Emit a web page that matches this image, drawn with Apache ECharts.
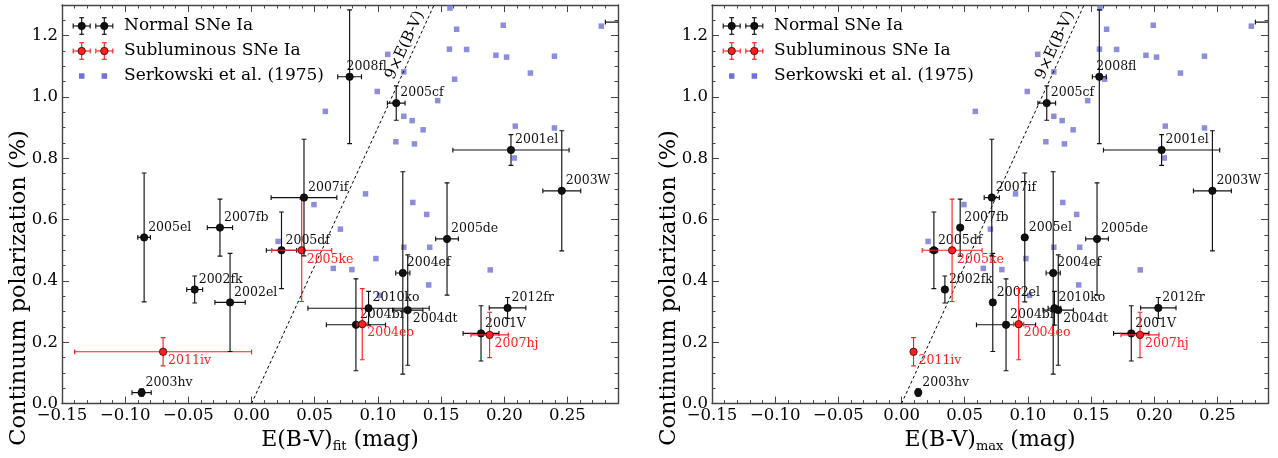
<!DOCTYPE html>
<html>
<head>
<meta charset="utf-8">
<script src="https://cdn.jsdelivr.net/npm/echarts@6/dist/echarts.min.js"></script>
<style>
html,body{margin:0;padding:0;background:#fff;}
#chart{width:1278px;height:458px;}
</style>
</head>
<body>
<div id="chart"></div>
<script>
// SN Ia data
var snNames   = ['2003hv','2011iv','2002el','2002fk','2005el','2007fb','2005df','2005ke','2007if','2008fl','2005cf','2001el','2003W','2005de','2004ef','2010ko','2004dt','2004br','2004eo','2001V','2007hj','2012fr',''];
var snGroup   = ['N','S','N','N','N','N','N','S','N','N','N','N','N','N','N','N','N','N','S','N','S','N','N'];
var snPol     = [0.036,0.169,0.330,0.372,0.542,0.574,0.500,0.500,0.672,1.066,0.980,0.827,0.694,0.537,0.426,0.311,0.305,0.257,0.259,0.229,0.224,0.312,1.244];
var snPolErr  = [0.012,0.046,0.160,0.044,0.210,0.093,0.125,0.167,0.190,0.218,0.056,0.050,0.196,0.183,0.330,0.055,0.180,0.150,0.116,0.090,0.074,0.034,0.000];
var ebvFit    = [-0.087,-0.070,-0.017,-0.045,-0.085,-0.025,0.0237,0.0397,0.0415,0.0776,0.1145,0.2053,0.2455,0.1547,0.1197,0.0926,0.1236,0.0826,0.0876,0.1816,0.1884,0.2026,0.300];
var ebvFitErr = [0.0076,0.070,0.012,0.0063,0.005,0.010,0.012,0.0237,0.026,0.0094,0.007,0.046,0.015,0.009,0.0056,0.048,0.012,0.0234,0.004,0.0142,0.0148,0.0145,0.020];
var ebvMax    = [0.0132,0.0095,0.0722,0.0343,0.0975,0.0464,0.0256,0.040,0.0714,0.1565,0.1149,0.2058,0.246,0.1547,0.120,0.121,0.124,0.0827,0.0927,0.1818,0.1887,0.2032,0.300];
var ebvMaxErr = [0.002,0.001,0.001,0.002,0.002,0.002,0.003,0.0237,0.006,0.0055,0.007,0.046,0.015,0.009,0.0056,0.005,0.012,0.0234,0.004,0.014,0.015,0.014,0.020];

// Serkowski et al. (1975) galactic stars
var serkEbv = [0.0584,0.0494,0.1623,0.1992,0.2768,0.1566,0.1702,0.1934,0.2018,0.2397,0.1078,0.1205,0.2207,0.1607,0.0995,0.1473,0.1205,0.1271,0.1358,0.1142,0.1289,0.2087,0.2397,0.2079,0.0902,0.1276,0.1386,0.0703,0.1205,0.1410,0.0984,0.0647,0.0794,0.1889,0.1402,0.1013,0.0210,0.1570];
var serkPol = [0.953,0.649,1.221,1.234,1.231,1.156,1.155,1.136,1.130,1.133,1.139,1.082,1.078,1.058,1.018,0.988,0.937,0.923,0.893,0.854,0.847,0.905,0.899,0.801,0.684,0.656,0.617,0.569,0.510,0.510,0.473,0.441,0.437,0.436,0.387,0.353,0.529,1.290];

var ratioSlope = 9;   // P = 9 x E(B-V)
var xMin = -0.15, xMax = 0.29, xMajor = 0.05, xMinor = 0.01;
var yMin = 0, yMax = 1.3, yMajor = 0.2, yMinor = 0.05;

// label placement (pixel offsets from the point)
var labelBelow = ['2005ke','2011iv','2004eo','2007hj','2004dt'];
var labelLeft  = ['2008fl'];

var serif = 'DejaVu Serif';
var axisColor = '#444';
var colNormal = '#111';
var colSub = '#ff1f1f';
var colSerk = '#7070d6';

function fmtX(v){
    if (v > xMax - 0.02) return '';
    if (Math.abs(v) < 1e-9) return '0.00';
    return (v < 0 ? '\u2212' : '') + Math.abs(v).toFixed(2);
}
function fmtY(v){
    if (v > yMax - 0.05) return '';
    return v.toFixed(1);
}

function mkX(grid, pos, major, labels, sub){
    var ax = {
        type:'value', gridIndex:grid, position:pos, min:xMin, max:xMax,
        interval: major ? xMajor : xMinor,
        axisLine:{show:major, onZero:false, lineStyle:{color:axisColor, width:1.4}},
        axisTick:{show:true, inside:true, length: major ? 7 : 3.5, lineStyle:{color:axisColor, width:1}},
        axisLabel:{show:labels, margin:4, color:'#000', fontFamily:serif, fontSize:16.5, formatter:fmtX},
        splitLine:{show:false}
    };
    if (sub){
        ax.name = '{a|E(B-V)}{s|' + sub + '}{a| (mag)}';
        ax.nameLocation = 'middle';
        ax.nameGap = 20;
        ax.nameTextStyle = {
            color:'#000', fontFamily:serif, fontSize:22,
            rich:{
                a:{color:'#000', fontFamily:serif, fontSize:22, lineHeight:25},
                s:{color:'#000', fontFamily:serif, fontSize:13, lineHeight:25, verticalAlign:'bottom'}
            }
        };
    }
    return ax;
}
function mkY(grid, pos, major, labels){
    return {
        type:'value', gridIndex:grid, position:pos, min:yMin, max:yMax,
        interval: major ? yMajor : yMinor,
        axisLine:{show:major, onZero:false, lineStyle:{color:axisColor, width:1.4}},
        axisTick:{show:true, inside:true, length: major ? 7 : 3.5, lineStyle:{color:axisColor, width:1}},
        axisLabel:{show:labels, margin:4, color:'#000', fontFamily:serif, fontSize:16.5, formatter:fmtY},
        splitLine:{show:false}
    };
}

function snData(xs, xe){
    var out = [];
    for (var i = 0; i < snNames.length; i++){
        out.push([xs[i], snPol[i], xe[i], snPolErr[i], i]);
    }
    return out;
}
function serkData(){
    var out = [];
    for (var i = 0; i < serkEbv.length; i++) out.push([serkEbv[i], serkPol[i]]);
    return out;
}

// error bars + dot + name
function renderSN(params, api){
    var i = api.value(4);
    var x = api.value(0), y = api.value(1), dx = api.value(2), dy = api.value(3);
    var col = snGroup[i] == 'S' ? colSub : colNormal;
    var c = api.coord([x, y]);
    var l = api.coord([x - dx, y])[0], r = api.coord([x + dx, y])[0];
    var t = api.coord([x, y + dy])[1], b = api.coord([x, y - dy])[1];
    var cap = 2.4;
    var st = {stroke:col, lineWidth:1.15};
    var kids = [];
    if (r - l > 1){
        kids.push({type:'line', shape:{x1:l, y1:c[1], x2:r, y2:c[1]}, style:st});
        kids.push({type:'line', shape:{x1:l, y1:c[1]-cap, x2:l, y2:c[1]+cap}, style:st});
        kids.push({type:'line', shape:{x1:r, y1:c[1]-cap, x2:r, y2:c[1]+cap}, style:st});
    }
    if (b - t > 1){
        kids.push({type:'line', shape:{x1:c[0], y1:t, x2:c[0], y2:b}, style:st});
        kids.push({type:'line', shape:{x1:c[0]-cap, y1:t, x2:c[0]+cap, y2:t}, style:st});
        kids.push({type:'line', shape:{x1:c[0]-cap, y1:b, x2:c[0]+cap, y2:b}, style:st});
    }
    kids.push({type:'circle', shape:{cx:c[0], cy:c[1], r:3.7}, style:{fill:col, stroke:'#000', lineWidth:0.7}});
    var nm = snNames[i];
    if (nm){
        var ox = 4, oy = -10;
        if (labelBelow.indexOf(nm) >= 0){ ox = 5; oy = 9; }
        if (labelLeft.indexOf(nm) >= 0){ ox = -3; oy = -10; }
        kids.push({type:'text', x:c[0]+ox, y:c[1]+oy,
            style:{text:nm, fill:col, font:'12.5px "DejaVu Serif"', align:'left', verticalAlign:'middle'}});
    }
    return {type:'group', children:kids};
}

// 9 x E(B-V) reference line with its label
function renderRatio(params, api){
    var p0 = api.coord([0, 0]);
    var p1 = api.coord([yMax / ratioSlope, yMax]);
    var ang = Math.atan2(p0[1] - p1[1], p1[0] - p0[0]);
    var yl = 1.156;
    var pl = api.coord([yl / ratioSlope, yl]);
    var d = 9.6;
    return {type:'group', children:[
        {type:'line', shape:{x1:p0[0], y1:p0[1], x2:p1[0], y2:p1[1]},
            style:{stroke:'#000', lineWidth:1, lineDash:[3, 2.5]}},
        {type:'text', x:pl[0] - d*Math.sin(ang), y:pl[1] - d*Math.cos(ang), rotation:ang,
            style:{text:'9\u00d7E(B-V)', fill:'#000', font:'15.5px "DejaVu Serif"', align:'center', verticalAlign:'middle'}}
    ]};
}

function panelSeries(ax, xs, xe){
    return [
        {type:'scatter', xAxisIndex:ax, yAxisIndex:ax, data:serkData(), symbol:'rect', symbolSize:5.5,
            itemStyle:{color:colSerk}, silent:true, z:2},
        {type:'custom', xAxisIndex:ax, yAxisIndex:ax, data:[[0, 0]], renderItem:renderRatio, silent:true, clip:true, z:3},
        {type:'custom', xAxisIndex:ax, yAxisIndex:ax, data:snData(xs, xe), renderItem:renderSN, silent:true, clip:true, z:4}
    ];
}

// legend drawn by hand, error bar style markers
function legendEls(x0){
    var els = [];
    var rows = [
        {text:'Normal SNe Ia', col:colNormal, kind:'err'},
        {text:'Subluminous SNe Ia', col:colSub, kind:'err'},
        {text:'Serkowski et al. (1975)', col:colSerk, kind:'sq'}
    ];
    for (var k = 0; k < rows.length; k++){
        var cy = 26 + 25 * k;
        var marks = [x0 + 8.7, x0 + 31.3];
        for (var m = 0; m < marks.length; m++){
            var cx = marks[m];
            var st = {stroke:rows[k].col, lineWidth:1.15};
            if (rows[k].kind == 'err'){
                els.push({type:'line', shape:{x1:cx-8.5, y1:cy, x2:cx+8.5, y2:cy}, style:st});
                els.push({type:'line', shape:{x1:cx-8.5, y1:cy-2.4, x2:cx-8.5, y2:cy+2.4}, style:st});
                els.push({type:'line', shape:{x1:cx+8.5, y1:cy-2.4, x2:cx+8.5, y2:cy+2.4}, style:st});
                els.push({type:'line', shape:{x1:cx, y1:cy-8.3, x2:cx, y2:cy+8.3}, style:st});
                els.push({type:'line', shape:{x1:cx-2.4, y1:cy-8.3, x2:cx+2.4, y2:cy-8.3}, style:st});
                els.push({type:'line', shape:{x1:cx-2.4, y1:cy+8.3, x2:cx+2.4, y2:cy+8.3}, style:st});
                els.push({type:'circle', shape:{cx:cx, cy:cy, r:3.7}, style:{fill:rows[k].col, stroke:'#000', lineWidth:0.7}});
            } else {
                els.push({type:'rect', shape:{x:cx-2.7, y:cy-2.7, width:5.5, height:5.5}, style:{fill:rows[k].col}});
            }
        }
        els.push({type:'text', x:x0 + 51, y:cy,
            style:{text:rows[k].text, fill:'#000', font:'17px "DejaVu Serif"', align:'left', verticalAlign:'middle'}});
    }
    return els;
}

function yTitle(x){
    return {type:'text', x:x, y:288, rotation:Math.PI/2,
        style:{text:'Continuum polarization (%)', fill:'#000', font:'22.5px "DejaVu Serif"', align:'center', verticalAlign:'middle'}};
}

var chart = echarts.init(document.getElementById('chart'));
var option = {
    backgroundColor:'#fff',
    animation:false,
    grid:[
        {left:62, top:5, width:556, height:405.5},
        {left:712, top:5, width:556, height:405.5}
    ],
    xAxis:[
        mkX(0,'bottom',true,true,'fit'), mkX(0,'bottom',false,false), mkX(0,'top',true,false), mkX(0,'top',false,false),
        mkX(1,'bottom',true,true,'max'), mkX(1,'bottom',false,false), mkX(1,'top',true,false), mkX(1,'top',false,false)
    ],
    yAxis:[
        mkY(0,'left',true,true), mkY(0,'left',false,false), mkY(0,'right',true,false), mkY(0,'right',false,false),
        mkY(1,'left',true,true), mkY(1,'left',false,false), mkY(1,'right',true,false), mkY(1,'right',false,false)
    ],
    series: panelSeries(0, ebvFit, ebvFitErr).concat(panelSeries(4, ebvMax, ebvMaxErr)),
    graphic: legendEls(73).concat(legendEls(723)).concat([yTitle(19), yTitle(669)])
};
chart.setOption(option);
</script>
</body>
</html>
